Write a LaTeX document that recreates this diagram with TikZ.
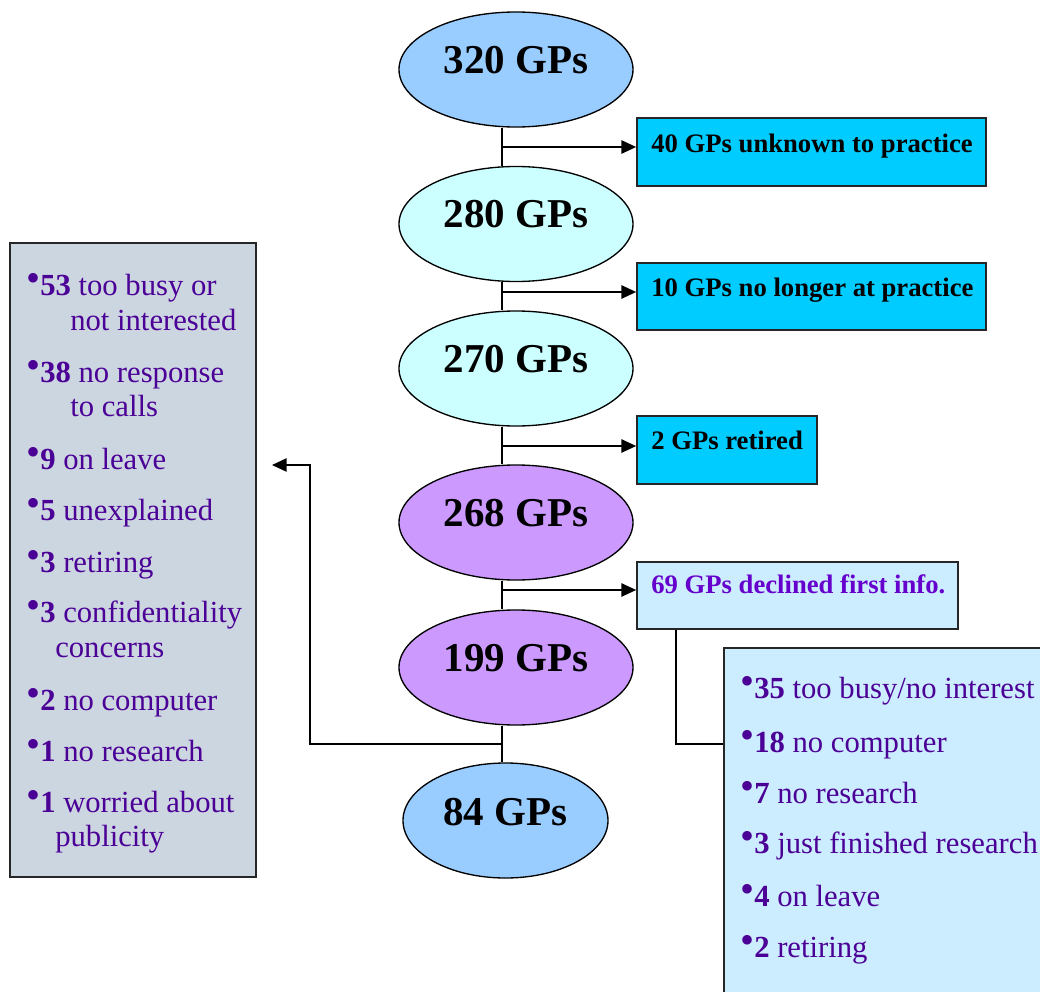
\documentclass[tikz,border=0pt]{standalone}
\usepackage{fontspec}
\setmainfont{Liberation Serif}
\usetikzlibrary{shapes.geometric,arrows.meta,calc}
\definecolor{cLightBlue}{HTML}{99CCFF}
\definecolor{cCyanPale}{HTML}{CCFFFF}
\definecolor{cLilac}{HTML}{CC99FF}
\definecolor{cCyan}{HTML}{00CCFF}
\definecolor{cPaleBlue}{HTML}{CCECFF}
\definecolor{cGrey}{HTML}{CCD6E0}
\definecolor{cPurple}{HTML}{6600CC}
\definecolor{cListPurple}{HTML}{4B0096}
\newcommand\mybul{\makebox[10.5pt][l]{\raisebox{3pt}{\fontsize{30pt}{30pt}\selectfont •}}}
\begin{document}
\begin{tikzpicture}[x=0.75pt,y=-0.75pt,
  ell/.style={ellipse, draw, line width=1pt, inner sep=0pt, minimum height=86.25pt, minimum width=175.5pt},
  gp/.style={font=\fontsize{30.75pt}{36pt}\selectfont\bfseries, anchor=base, inner sep=0pt},
  boxc/.style={rectangle, draw=black!85, line width=1.3pt, inner sep=0pt},
  btxt/.style={font=\fontsize{20pt}{24pt}\selectfont\bfseries, anchor=base west, inner sep=0pt},
  ltxt/.style={font=\fontsize{23pt}{28pt}\selectfont, text=cListPurple, anchor=base west, inner sep=0pt},
  conn/.style={line width=1.1pt},
  arr/.style={conn, -{Triangle[length=11pt,width=10pt]}}]
\useasboundingbox (0,0) rectangle (1040,992);
\clip (0,0) rectangle (1040,992);

% ellipses
\node[ell, fill=cLightBlue] (e1) at (516,69.5) {};
\node[ell, fill=cCyanPale] (e2) at (516,224) {};
\node[ell, fill=cCyanPale] (e3) at (516,368.5) {};
\node[ell, fill=cLilac] (e4) at (516,522.5) {};
\node[ell, fill=cLilac] (e5) at (516,667.5) {};
\node[ell, fill=cLightBlue, minimum width=153.75pt] (e6) at (505.5,820.5) {};

\node[gp] (t1) at ($(e1.center)+(0,3.5)$) {320 GPs};
\node[gp] (t2) at ($(e2.center)+(0,3.5)$) {280 GPs};
\node[gp] (t3) at ($(e3.center)+(0,3.5)$) {270 GPs};
\node[gp] (t4) at ($(e4.center)+(0,3.5)$) {268 GPs};
\node[gp] (t5) at ($(e5.center)+(0,3.5)$) {199 GPs};
\node[gp] (t6) at ($(e6.center)+(0,4.5)$) {84 GPs};

% side boxes
\node[boxc, fill=cCyan, minimum width=261.75pt, minimum height=51pt] (b1) at (811.5,152) {};
\node[boxc, fill=cCyan, minimum width=261.75pt, minimum height=50.25pt] (b2) at (811.5,296.5) {};
\node[boxc, fill=cCyan, minimum width=135pt, minimum height=51pt] (b3) at (727,450) {};
\node[boxc, fill=cPaleBlue, minimum width=240.75pt, minimum height=50.25pt] (b4) at (797.5,595.5) {};
\node[btxt] (bt1) at (651,152) {40 GPs unknown to practice};
\node[btxt] (bt2) at (651,296) {10 GPs no longer at practice};
\node[btxt] (bt3) at (651,449) {2 GPs retired};
\node[btxt, text=cPurple] (bt4) at (651,593) {69 GPs declined first info.};

% list boxes
\node[boxc, fill=cGrey, minimum width=184.5pt, minimum height=475.5pt] (lb) at (133,560) {};
\node[boxc, fill=cPaleBlue, minimum width=252pt, minimum height=273pt] (rb) at (892,830) {};

% trunk
\coordinate (t) at (502,0);
\draw[conn] (e1.south -| t) -- (e2.north -| t);
\draw[conn] (e2.south -| t) -- (e3.north -| t);
\draw[conn] (e3.south -| t) -- (e4.north -| t);
\draw[conn] (e4.south -| t) -- (e5.north -| t);
\draw[conn] (e5.south -| t) -- (e6.north -| t);

\coordinate (a1) at (502,147);
\coordinate (a2) at (502,292);
\coordinate (a3) at (502,446);
\coordinate (a4) at (502,590);
\draw[arr] (a1) -- (a1 -| b1.west);
\draw[arr] (a2) -- (a2 -| b2.west);
\draw[arr] (a3) -- (a3 -| b3.west);
\draw[arr] (a4) -- (a4 -| b4.west);

% left branch
\coordinate (l0) at (502,744);
\coordinate (l1) at (310,744);
\coordinate (l2) at (310,465);
\coordinate (l3) at (272,465);
\draw[arr] (l0) -- (l1) -- (l2) -- (l3);

% right branch
\coordinate (c4) at (676,744);
\draw[conn] (b4.south -| c4) -- (c4) -- (c4 -| rb.west);

% left list
\node[ltxt] (ll1) at (26,295) {\mybul\textbf{53} too busy or};
\node[ltxt] (ll2) at (70,330) {not interested};
\node[ltxt] (ll3) at (26,382) {\mybul\textbf{38} no response};
\node[ltxt] (ll4) at (70,416) {to calls};
\node[ltxt] (ll5) at (26,469) {\mybul\textbf{9} on leave};
\node[ltxt] (ll6) at (26,520) {\mybul\textbf{5} unexplained};
\node[ltxt] (ll7) at (26,572) {\mybul\textbf{3} retiring};
\node[ltxt] (ll8) at (26,622) {\mybul\textbf{3} confidentiality};
\node[ltxt] (ll9) at (55,657) {concerns};
\node[ltxt] (ll10) at (26,710) {\mybul\textbf{2} no computer};
\node[ltxt] (ll11) at (26,761) {\mybul\textbf{1} no research};
\node[ltxt] (ll12) at (26,812) {\mybul\textbf{1} worried about};
\node[ltxt] (ll13) at (55,846) {publicity};

% right list
\node[ltxt] (rl1) at (740,698) {\mybul\textbf{35} too busy/no interest};
\node[ltxt] (rl2) at (740,752) {\mybul\textbf{18} no computer};
\node[ltxt] (rl3) at (740,803) {\mybul\textbf{7} no research};
\node[ltxt] (rl4) at (740,853) {\mybul\textbf{3} just finished research};
\node[ltxt] (rl5) at (740,906) {\mybul\textbf{4} on leave};
\node[ltxt] (rl6) at (740,957) {\mybul\textbf{2} retiring};
\end{tikzpicture}
\end{document}
